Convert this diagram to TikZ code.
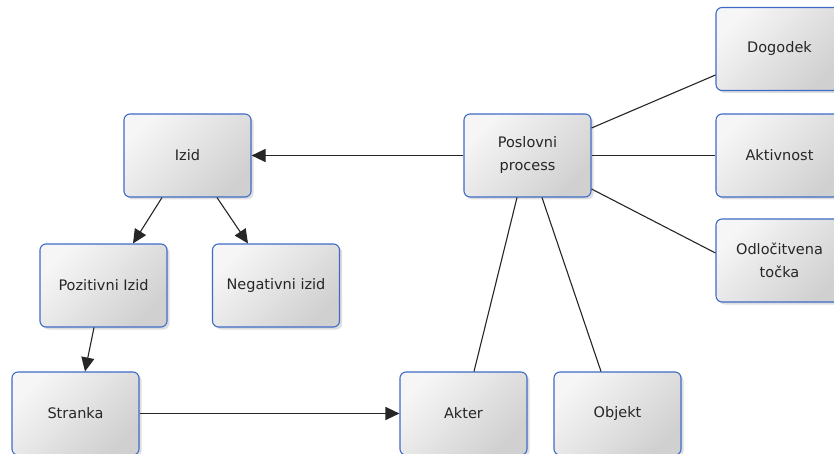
\documentclass[tikz,border=0pt]{standalone}
\usepackage{fontspec}
\setmainfont{DejaVu Sans}
\usetikzlibrary{arrows.meta,shadows,calc}
\definecolor{boxedge}{HTML}{3E6BC6}
\definecolor{boxlight}{HTML}{F6F6F6}
\definecolor{boxdark}{HTML}{D0D0D0}
\tikzset{
  entity/.style={rectangle, rounded corners=6pt, draw=boxedge, line width=1.1pt,
    minimum width=127pt, minimum height=83pt, inner sep=2pt, align=center,
    shading=axis, left color=boxlight, right color=boxdark, shading angle=45,
    drop shadow={shadow xshift=2.5pt, shadow yshift=-2.5pt, fill=black!35, opacity=0.35},
    font=\fontsize{14.5pt}{23pt}\selectfont, text=black!85},
  link/.style={draw=black!85, line width=1.1pt},
  arrowlink/.style={link, -{Triangle[length=14pt,width=13pt]}}
}
\begin{document}
\begin{tikzpicture}[x=1pt,y=-1pt]
  \useasboundingbox (0,0) rectangle (834,454);
  \clip (0,0) rectangle (834,454);
  \fill[white] (0,0) rectangle (834,454);

  \node[entity] (izid)  at (187.5,155.5) {Izid};
  \node[entity] (proc)  at (527.5,155.5) {Poslovni\\process};
  \node[entity] (dog)   at (779.5,49)    {Dogodek};
  \node[entity] (akt)   at (779.5,155.5) {Aktivnost};
  \node[entity] (odl)   at (779.5,260.5) {Odločitvena\\točka};
  \node[entity] (poz)   at (103.5,285.5) {Pozitivni Izid};
  \node[entity] (neg)   at (276,285.5)   {Negativni izid};
  \node[entity] (str)   at (75.5,413.5)  {Stranka};
  \node[entity] (akter) at (463.5,413.5) {Akter};
  \node[entity] (obj)   at (617.5,413.5) {Objekt};

  % arrows
  \draw[arrowlink] (proc.west) -- (izid.east);
  \draw[arrowlink] ([xshift=-25.5pt]izid.south) -- ([xshift=29.5pt]poz.north);
  \draw[arrowlink] ([xshift=29.5pt]izid.south) -- ([xshift=-28pt]neg.north);
  \draw[arrowlink] ([xshift=-9.5pt]poz.south) -- ([xshift=9.5pt]str.north);
  \draw[arrowlink] (str.east) -- (akter.west);

  % plain associations
  \draw[link] ([yshift=27.5pt]proc.east) -- ([yshift=-26pt]dog.west);
  \draw[link] (proc.east) -- (akt.west);
  \draw[link] ([yshift=-33.5pt]proc.east) -- ([yshift=7.5pt]odl.west);
  \draw[link] ([xshift=-10.5pt]proc.south) -- ([xshift=10.5pt]akter.north);
  \draw[link] ([xshift=14.5pt]proc.south) -- ([xshift=-16.5pt]obj.north);
\end{tikzpicture}
\end{document}
